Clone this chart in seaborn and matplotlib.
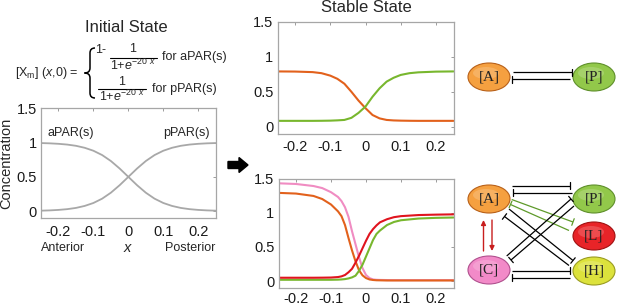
import numpy as np
import matplotlib
matplotlib.use("Agg")
import matplotlib.pyplot as plt
from matplotlib.patches import Ellipse, FancyArrow, PathPatch
from matplotlib.path import Path
import seaborn as sns

# ---- data ----
x_init = [-0.25, -0.225, -0.2, -0.175, -0.15, -0.125, -0.1, -0.075, -0.05, -0.025, 0,
          0.025, 0.05, 0.075, 0.1, 0.125, 0.15, 0.175, 0.2, 0.225, 0.25]
apar_init = [0.993, 0.989, 0.982, 0.971, 0.953, 0.924, 0.881, 0.818, 0.731, 0.622, 0.5,
             0.378, 0.269, 0.182, 0.119, 0.076, 0.047, 0.029, 0.018, 0.011, 0.007]
ppar_init = [0.007, 0.011, 0.018, 0.029, 0.047, 0.076, 0.119, 0.182, 0.269, 0.378, 0.5,
             0.622, 0.731, 0.818, 0.881, 0.924, 0.953, 0.971, 0.982, 0.989, 0.993]

x_two = [-0.25, -0.2, -0.15, -0.125, -0.1, -0.08, -0.06, -0.04, -0.02, 0,
         0.02, 0.04, 0.06, 0.08, 0.1, 0.125, 0.15, 0.2, 0.25]
a_two = [0.79, 0.788, 0.78, 0.765, 0.73, 0.685, 0.615, 0.50, 0.376, 0.267,
         0.17, 0.122, 0.1, 0.093, 0.09, 0.088, 0.087, 0.087, 0.087]
p_two = [0.087, 0.087, 0.087, 0.088, 0.09, 0.094, 0.1, 0.13, 0.2, 0.29,
         0.43, 0.55, 0.645, 0.70, 0.74, 0.765, 0.777, 0.787, 0.79]

x_five = [-0.25, -0.2, -0.15, -0.125, -0.1, -0.08, -0.07, -0.06, -0.05, -0.04, -0.03, -0.02,
          -0.01, 0, 0.01, 0.02, 0.03, 0.04, 0.06, 0.08, 0.1, 0.15, 0.2, 0.25]
a_five = [1.29, 1.28, 1.245, 1.20, 1.12, 1.02, 0.95, 0.82, 0.63, 0.45, 0.29, 0.16,
          0.085, 0.045, 0.025, 0.017, 0.013, 0.012, 0.01, 0.01, 0.01, 0.01, 0.01, 0.01]
c_five = [1.43, 1.42, 1.39, 1.36, 1.30, 1.23, 1.17, 1.08, 0.94, 0.73, 0.54, 0.35,
          0.19, 0.09, 0.045, 0.025, 0.02, 0.018, 0.016, 0.015, 0.015, 0.015, 0.015, 0.015]
l_five = [0.05, 0.05, 0.05, 0.051, 0.053, 0.06, 0.07, 0.09, 0.13, 0.18, 0.27, 0.37,
          0.48, 0.59, 0.69, 0.76, 0.815, 0.86, 0.905, 0.935, 0.95, 0.966, 0.972, 0.976]
p_five = [0.02, 0.02, 0.02, 0.02, 0.02, 0.022, 0.025, 0.03, 0.04, 0.055, 0.08, 0.15,
          0.24, 0.36, 0.48, 0.60, 0.69, 0.74, 0.82, 0.865, 0.89, 0.915, 0.925, 0.93]

xticks = [-0.2, -0.1, 0, 0.1, 0.2]
xtick_labels = ["-0.2", "-0.1", "0", "0.1", "0.2"]
yticks = [0, 0.5, 1, 1.5]
ytick_labels = ["0", "0.5", "1", "1.5"]

ORANGE = "#E2611C"
GREEN = "#78B72E"
RED = "#E0141E"
PINK = "#F08CC2"
GREY = "#A8A8A8"

sns.set_theme(style="white")
plt.rcParams["font.family"] = ["Liberation Sans", "DejaVu Sans"]
plt.rcParams["axes.unicode_minus"] = False
plt.rcParams["mathtext.fontset"] = "custom"
plt.rcParams["mathtext.rm"] = "Liberation Sans"
plt.rcParams["mathtext.it"] = "Liberation Sans:italic"

W, H = 617, 307
fig = plt.figure(figsize=(W / 100, H / 100), dpi=100)


def box(x0, x1, top, bottom):
    return [x0 / W, (H - bottom) / H, (x1 - x0) / W, (bottom - top) / H]


def style_axes(ax, xpad=5):
    ax.set_xlim(-0.25, 0.25)
    ax.set_ylim(-0.1, 1.5)
    ax.set_xticks(xticks)
    ax.set_xticklabels(xtick_labels)
    ax.set_yticks(yticks)
    ax.set_yticklabels(ytick_labels)
    ax.tick_params(axis="both", direction="in", top=True, right=True, length=2.5,
                   width=0.6, color="#8C8C8C", labelsize=10.5, labelcolor="#1A1A1A")
    ax.tick_params(axis="x", pad=xpad)
    ax.tick_params(axis="y", pad=3)
    for s in ax.spines.values():
        s.set_color("#A6A6A6")
        s.set_linewidth(0.9)
    ax.set_xlabel("")
    ax.set_ylabel("")


# initial state
ax0 = fig.add_axes(box(41, 215.7, 108.3, 218))
sns.lineplot(x=x_init, y=apar_init, ax=ax0, color=GREY, linewidth=1.3)
sns.lineplot(x=x_init, y=ppar_init, ax=ax0, color=GREY, linewidth=1.3)
style_axes(ax0)
ax0.set_ylabel("Concentration", fontsize=10.5, labelpad=2)
ax0.text(-0.23, 1.14, "aPAR(s)", fontsize=9, ha="left", va="center")
ax0.text(0.234, 1.14, "pPAR(s)", fontsize=9, ha="right", va="center")

# stable state, two-component model
ax1 = fig.add_axes(box(277.5, 453.5, 21.5, 134))
sns.lineplot(x=x_two, y=a_two, ax=ax1, color=ORANGE, linewidth=1.5)
sns.lineplot(x=x_two, y=p_two, ax=ax1, color=GREEN, linewidth=1.5)
style_axes(ax1, xpad=4)

# stable state, five-component model
ax2 = fig.add_axes(box(278.5, 453.5, 178.5, 288))
sns.lineplot(x=x_five, y=c_five, ax=ax2, color=PINK, linewidth=1.5)
sns.lineplot(x=x_five, y=a_five, ax=ax2, color=ORANGE, linewidth=1.5)
sns.lineplot(x=x_five, y=p_five, ax=ax2, color=GREEN, linewidth=1.5)
sns.lineplot(x=x_five, y=l_five, ax=ax2, color=RED, linewidth=1.5)
style_axes(ax2, xpad=3)

# overlay in pixel coordinates for text, arrow and network sketches
ov = fig.add_axes([0, 0, 1, 1])
ov.set_xlim(0, W)
ov.set_ylim(H, 0)
ov.axis("off")
ov.patch.set_alpha(0)

ov.text(126, 27, "Initial State", fontsize=12, ha="center", va="center")
ov.text(366, 8, "Stable State", fontsize=12, ha="center", va="center")

ov.text(15, 73, "[X$_\\mathrm{m}$] ($x$,0) =", fontsize=9, ha="left", va="center")
brace = Path([(95, 48), (90, 48), (90, 53), (90, 68), (90, 73), (84.5, 73),
              (90, 73), (90, 78), (90, 93), (90, 98), (95, 98)],
             [Path.MOVETO, Path.CURVE3, Path.CURVE3, Path.LINETO, Path.CURVE3, Path.CURVE3,
              Path.CURVE3, Path.CURVE3, Path.LINETO, Path.CURVE3, Path.CURVE3])
ov.add_patch(PathPatch(brace, facecolor="none", edgecolor="black", lw=1.1))
ov.text(95, 50, "1-", fontsize=9, ha="left", va="center")
ov.text(133, 49.5, "1", fontsize=9, ha="center", va="center")
ov.plot([110, 157], [57.5, 57.5], color="black", lw=0.8)
ov.text(133, 65, "1+$e^{\\mathrm{-20}\\ x}$", fontsize=9, ha="center", va="center")
ov.text(162, 57, "for aPAR(s)", fontsize=9, ha="left", va="center")
ov.text(122, 82, "1", fontsize=9, ha="center", va="center")
ov.plot([98, 146], [89, 89], color="black", lw=0.8)
ov.text(122, 96.5, "1+$e^{\\mathrm{-20}\\ x}$", fontsize=9, ha="center", va="center")
ov.text(152, 89, "for pPAR(s)", fontsize=9, ha="left", va="center")

ov.text(41, 248, "Anterior", fontsize=9, ha="left", va="center")
ov.text(128, 248, "$x$", fontsize=10.5, ha="center", va="center")
ov.text(215, 248, "Posterior", fontsize=9, ha="right", va="center")

ov.add_patch(FancyArrow(228, 165, 20, 0, width=7, head_width=15, head_length=9,
                        length_includes_head=True, color="black"))

NODE_COLORS = {
    "A": ("#F5A040", "#B86018"),
    "P": ("#92C84A", "#5E8F2A"),
    "L": ("#E82428", "#A01010"),
    "H": ("#DCE23C", "#9A9C20"),
    "C": ("#F28AC8", "#B0508E"),
}


def node(cx, cy, name):
    face, edge = NODE_COLORS[name]
    ov.add_patch(Ellipse((cx, cy), 42, 28, facecolor=face, edgecolor=edge, lw=0.8))
    ov.add_patch(Ellipse((cx - 3, cy - 4), 26, 12, facecolor="white", edgecolor="none", alpha=0.18))
    ov.text(cx, cy, f"[{name}]", fontsize=11, ha="center", va="center",
            family=["Liberation Serif", "DejaVu Serif"], color="#222222")


def inhibit(p0, p1, color="black", half=3.5):
    p0 = np.array(p0, float)
    p1 = np.array(p1, float)
    d = (p1 - p0) / np.linalg.norm(p1 - p0)
    n = np.array([-d[1], d[0]])
    ov.plot([p0[0], p1[0]], [p0[1], p1[1]], color=color, lw=0.9, solid_capstyle="butt")
    ov.plot([p1[0] - n[0] * half, p1[0] + n[0] * half],
            [p1[1] - n[1] * half, p1[1] + n[1] * half], color=color, lw=0.9)


# two-component network
inhibit((512.7, 72.3), (571.7, 72.3))
inhibit((570.0, 79.0), (511.7, 79.0))
node(489, 77, "A")
node(594, 77, "P")

# five-component network
inhibit((511.7, 185.7), (570.0, 185.7))
inhibit((571.7, 192.7), (513.3, 192.7))
inhibit((511.7, 199.5), (573.0, 222.0), color="#5E9A2A")
inhibit((569.0, 230.5), (510.5, 204.5), color="#5E9A2A")
inhibit((509.0, 209.0), (573.0, 260.5))
inhibit((569.0, 265.5), (504.5, 216.5))
inhibit((506.7, 256.0), (571.0, 199.0))
inhibit((574.0, 206.0), (511.0, 260.0))
inhibit((511.7, 270.5), (570.0, 270.5))
inhibit((570.0, 277.5), (511.7, 277.5))
ov.annotate("", xy=(483.5, 220), xytext=(483.5, 251),
            arrowprops=dict(arrowstyle="-|>", color="#C81E1E", lw=1.0,
                            mutation_scale=7, shrinkA=0, shrinkB=0))
ov.annotate("", xy=(492, 251), xytext=(492, 220),
            arrowprops=dict(arrowstyle="-|>", color="#C81E1E", lw=1.0,
                            mutation_scale=7, shrinkA=0, shrinkB=0))
node(489, 199, "A")
node(594, 199, "P")
node(594, 236, "L")
node(594, 271, "H")
node(489, 270, "C")

fig.savefig("out.png", dpi=100)
